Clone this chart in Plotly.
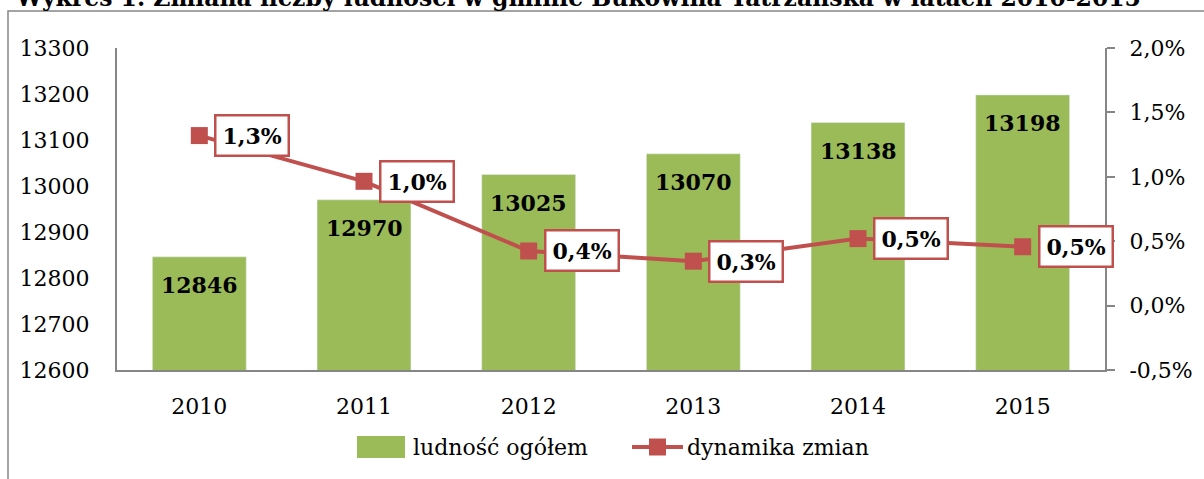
import plotly.graph_objects as go

years = [2010, 2011, 2012, 2013, 2014, 2015]
population = [12846, 12970, 13025, 13070, 13138, 13198]
dynamics = [1.32, 0.965, 0.424, 0.345, 0.52, 0.457]  # percent
left_ticks = [12600, 12700, 12800, 12900, 13000, 13100, 13200, 13300]
right_ticks = [-0.5, 0.0, 0.5, 1.0, 1.5, 2.0]
right_labels = ["-0,5%", "0,0%", "0,5%", "1,0%", "1,5%", "2,0%"]
title_text = "Wykres 1. Zmiana liczby ludności w gminie Bukowina Tatrzańska w latach 2010-2015"
legend_names = ["ludność ogółem", "dynamika zmian"]

W, H = 1204, 479
PX0, PX1, PY0, PY1 = 117, 1105, 48, 370   # plot area in pixels
L, T = PX0, PY0
PW, PH = PX1 - PX0, PY1 - PY0
R, B = W - L - PW, H - T - PH

def px(x):
    return (x - PX0) / PW

def py(y):
    return (PY1 - y) / PH

GREEN = "#9BBB59"
RED = "#C0504D"
GRAY = "#868686"
FONT = "DejaVu Serif"

fig = go.Figure()
fig.add_trace(go.Bar(x=years, y=population, marker_color=GREEN, name=legend_names[0],
                     showlegend=False))
fig.add_trace(go.Scatter(x=years, y=dynamics, yaxis="y2", mode="lines+markers",
                         line=dict(color=RED, width=4),
                         marker=dict(symbol="square", size=17, color=RED),
                         name=legend_names[1], showlegend=False))

annotations = []
for yr, v in zip(years, population):
    annotations.append(dict(x=yr, y=v, xref="x", yref="y", text=f"<b>{v}</b>",
                            showarrow=False, yanchor="middle", yshift=-28,
                            font=dict(family=FONT, size=22, color="black")))
for yr, v in zip(years, dynamics):
    lbl = f"{v:.1f}".replace(".", ",") + "%"
    annotations.append(dict(x=yr, y=v, xref="x", yref="y2", text=f"<b>{lbl}</b>",
                            showarrow=False, xanchor="left", yanchor="middle", xshift=15,
                            bgcolor="white", bordercolor=RED, borderwidth=2.5, borderpad=6,
                            font=dict(family=FONT, size=22, color="black")))

annotations.append(dict(x=px(578), y=py(14), xref="paper", yref="paper", text=f"<b>{title_text}</b>",
                        showarrow=False, xanchor="center", yanchor="bottom",
                        font=dict(family=FONT, size=23.5, color="black")))
annotations.append(dict(x=px(411), y=py(447), xref="paper", yref="paper", text=legend_names[0],
                        showarrow=False, xanchor="left", yanchor="middle",
                        font=dict(family=FONT, size=22, color="black")))
annotations.append(dict(x=px(685), y=py(447), xref="paper", yref="paper", text=legend_names[1],
                        showarrow=False, xanchor="left", yanchor="middle",
                        font=dict(family=FONT, size=22, color="black")))

shapes = [
    dict(type="rect", xref="paper", yref="paper", x0=px(8), x1=px(1215), y0=py(500), y1=py(11),
         line=dict(color=GRAY, width=1.5), fillcolor="rgba(0,0,0,0)", layer="below"),
    dict(type="rect", xref="paper", yref="paper", x0=px(357), x1=px(405), y0=py(458), y1=py(436),
         line=dict(width=0), fillcolor=GREEN),
    dict(type="line", xref="paper", yref="paper", x0=px(632), x1=px(683), y0=py(447), y1=py(447),
         line=dict(color=RED, width=4)),
    dict(type="rect", xref="paper", yref="paper", x0=px(649), x1=px(666), y0=py(455.5), y1=py(438.5),
         line=dict(width=0), fillcolor=RED),
]

fig.update_layout(
    width=W, height=H,
    margin=dict(l=L, r=R, t=T, b=B, pad=0),
    paper_bgcolor="white", plot_bgcolor="white",
    showlegend=False,
    bargap=0.43,
    font=dict(family=FONT, size=22, color="black"),
    xaxis=dict(range=[years[0] - 0.5, years[-1] + 0.5], tickvals=years, tickformat="d",
               showline=True, linecolor=GRAY, linewidth=2, ticks="", showgrid=False,
               zeroline=False, tickfont=dict(family=FONT, size=22), ticklabelstandoff=16),
    yaxis=dict(range=[12600, 13300], tickvals=left_ticks, tickformat="d",
               showline=True, linecolor=GRAY, linewidth=2, ticks="", showgrid=False,
               zeroline=False, tickfont=dict(family=FONT, size=22), ticklabelstandoff=21),
    yaxis2=dict(range=[-0.5, 2.0], tickvals=right_ticks, ticktext=right_labels,
                overlaying="y", side="right", showline=True, linecolor=GRAY, linewidth=2,
                ticks="outside", ticklen=8, tickcolor=GRAY, tickwidth=2, showgrid=False,
                zeroline=False, tickfont=dict(family=FONT, size=22), ticklabelstandoff=10),
    annotations=annotations,
    shapes=shapes,
)

fig.write_html("out.html", config={"displayModeBar": False},
               post_script="document.body.style.margin='0';document.body.style.overflow='hidden';")
